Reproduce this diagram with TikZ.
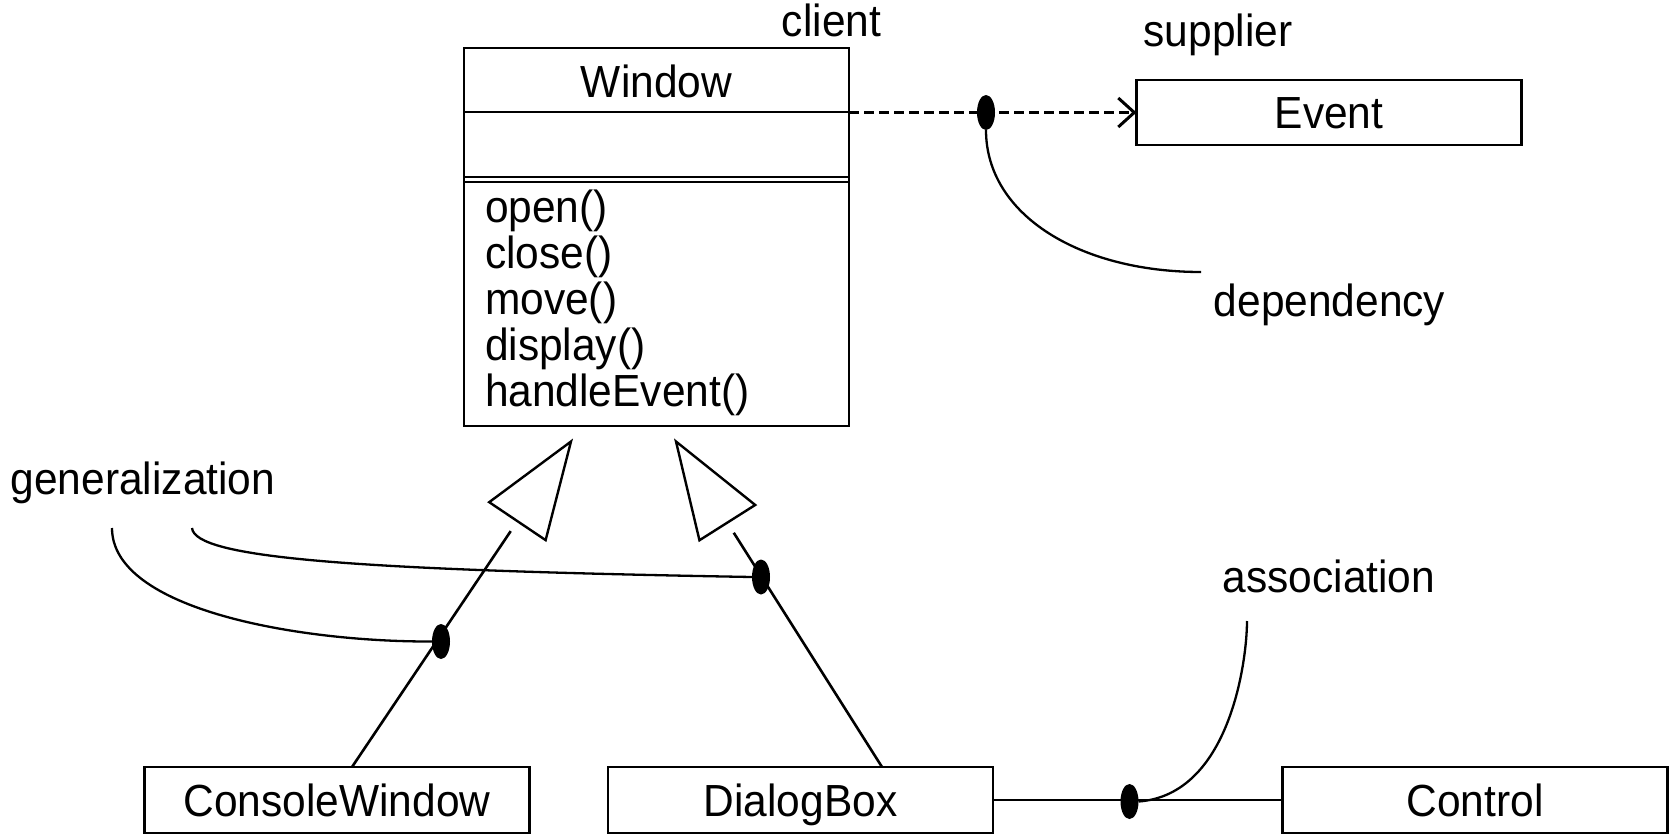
\documentclass[tikz,border=0pt]{standalone}
\usepackage{fontspec}
\setmainfont{Liberation Sans}[FakeStretch=0.944]
\usetikzlibrary{arrows.meta,shapes.geometric,calc}
\begin{document}
\begin{tikzpicture}[x=1pt,y=-1pt,
  every node/.style={font=\fontsize{45}{48}\selectfont, inner sep=0pt, outer sep=0pt},
  classbox/.style={draw, line width=2.8pt, rectangle, minimum width=385pt,
    minimum height=66pt, text height=32pt, text depth=0pt},
  caption/.style={anchor=base},
  link/.style={line width=2.6pt},
  notecurve/.style={line width=2.3pt},
  joint/.style={ellipse, fill=black, minimum width=18pt, minimum height=35pt},
  hollowtri/.style={line width=2.4pt, line join=miter},
  depends/.style={line width=3pt, dash pattern=on 10pt off 5pt,
    -{Straight Barb[length=16pt, width=29pt, line width=3pt]}}
]
\useasboundingbox (0,0) rectangle (1674,835);

% Window class with its three compartments
\node[draw, line width=2.8pt, minimum width=385pt, minimum height=378pt] (Window) at (656.5,237) {};
\node[caption] (wname) at (656.5,97) {Window};
\draw[line width=2.8pt] (Window.west |- 0,112) -- (Window.east |- 0,112);
\draw[line width=2pt] (Window.west |- 0,176.5) -- (Window.east |- 0,176.5);
\draw[line width=2pt] (Window.west |- 0,182) -- (Window.east |- 0,182);
\foreach \m [count=\i] in {open(), close(), move(), display(), handleEvent()}
  \node[anchor=base west] (m\i) at (485,{222+46*(\i-1)}) {\m};

% other classes
\node[classbox, minimum height=65pt] (Event) at (1329,112.5) {Event};
\node[classbox] (ConsoleWindow) at (337,800) {ConsoleWindow};
\node[classbox] (DialogBox) at (800.5,800) {DialogBox};
\node[classbox] (Control) at (1475,800) {Control};

% role and relationship labels
\node[caption] (client) at (831.5,36) {client};
\node[caption] (supplier) at (1218,46) {supplier};
\node[caption] (dependency) at (1329.5,316) {dependency};
\node[caption] (generalization) at (143,494) {generalization};
\node[caption] (association) at (1329,592) {association};

% dependency
\draw[depends] (Window.east |- Event.west) -- (Event.west);
\node[joint] (depdot) at (986,112.5) {};
\coordinate (depend) at (1201,272);
\draw[notecurve] (depdot.south) .. controls (986,215) and (1080,272) .. (depend);

% generalizations: a line from the child, then a hollow triangle pointing to Window
\coordinate (startL) at ([xshift=15pt]ConsoleWindow.north);
\coordinate (startR) at ([xshift=81.5pt]DialogBox.north);
\coordinate (tipL) at (571,441.5);
\coordinate (tipR) at (676,441.5);
\coordinate (baseL) at ($(tipL)!96pt!(startL)$);
\coordinate (baseR) at ($(tipR)!96pt!(startR)$);
\coordinate (endL) at ($(tipL)!108pt!(startL)$);
\coordinate (endR) at ($(tipR)!108pt!(startR)$);
\draw[link] (startL) -- (endL);
\draw[link] (startR) -- (endR);
\draw[hollowtri] (tipL) -- ($(baseL)!34pt!90:(tipL)$) -- ($(baseL)!34pt!-90:(tipL)$) -- cycle;
\draw[hollowtri] (tipR) -- ($(baseR)!33pt!90:(tipR)$) -- ($(baseR)!33pt!-90:(tipR)$) -- cycle;
\node[joint] (gdotL) at (441,641.5) {};
\node[joint] (gdotR) at (761,577) {};
\coordinate (gen1) at (112,528);
\coordinate (gen2) at (192,528);
\draw[notecurve] (gen1) .. controls (112,610) and (300,642) .. (gdotL.west);
\draw[notecurve] (gen2) .. controls (195,558) and (350,570) .. (gdotR.west);

% association
\draw[link] (DialogBox.east) -- (Control.west);
\node[joint] (asdot) at (1129.5,801.5) {};
\coordinate (assoc) at (1247,621);
\draw[notecurve] (asdot.east) .. controls (1230,795) and (1247,660) .. (assoc);
\end{tikzpicture}
\end{document}
